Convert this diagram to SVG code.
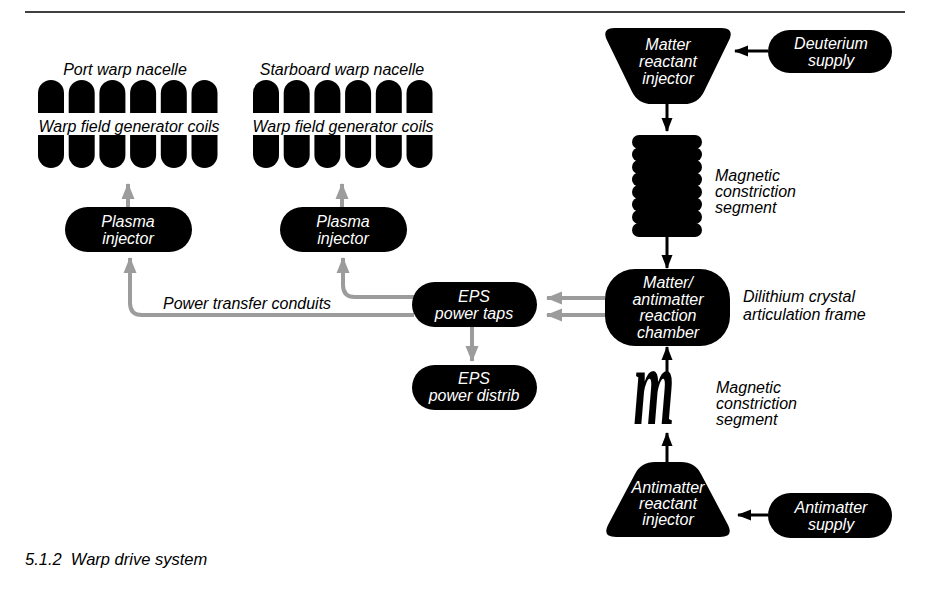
<svg xmlns="http://www.w3.org/2000/svg" width="937" height="590" viewBox="0 0 937 590">
<style>
text{font-family:"Liberation Sans",Arial,sans-serif;font-style:italic;font-size:16px}
.w{fill:#fff;text-anchor:middle}
.k{fill:#000}
.c{text-anchor:middle}
.node{fill:#000}
.g{fill:none;stroke:#9c9c9c;stroke-width:4}
.b{fill:none;stroke:#000;stroke-width:3}
</style>
<defs>
<marker id="ga" markerUnits="userSpaceOnUse" markerWidth="16" markerHeight="16" viewBox="0 0 16 16" refX="15" refY="8" orient="auto">
<path d="M0 1.5 L16 8 L0 14.5 Z" fill="#9c9c9c"/>
</marker>
<marker id="ba" markerUnits="userSpaceOnUse" markerWidth="14" markerHeight="14" viewBox="0 0 14 14" refX="13" refY="7" orient="auto">
<path d="M0 1.5 L14 7 L0 12.5 Z" fill="#000"/>
</marker>
<path id="ct" d="M0 33 V13 A13 13 0 0 1 26 13 V33 Z"/>
<path id="cb" d="M0 0 V20 A13 13 0 0 0 26 20 V0 Z"/>
</defs>
<line x1="25" y1="12" x2="905" y2="12" stroke="#000" stroke-width="1.5"/>

<g id="port-nacelle">
<text class="k c" x="125" y="75">Port warp nacelle</text>
<g class="node">
<use href="#ct" x="38" y="80"/><use href="#ct" x="68.7" y="80"/><use href="#ct" x="99.4" y="80"/><use href="#ct" x="130.1" y="80"/><use href="#ct" x="160.8" y="80"/><use href="#ct" x="191.5" y="80"/>
<use href="#cb" x="38" y="135"/><use href="#cb" x="68.7" y="135"/><use href="#cb" x="99.4" y="135"/><use href="#cb" x="130.1" y="135"/><use href="#cb" x="160.8" y="135"/><use href="#cb" x="191.5" y="135"/>
</g>
<text class="k c" x="129" y="132">Warp field generator coils</text>
</g>

<g id="starboard-nacelle">
<text class="k c" x="342" y="75">Starboard warp nacelle</text>
<g class="node">
<use href="#ct" x="253" y="80"/><use href="#ct" x="283.7" y="80"/><use href="#ct" x="314.4" y="80"/><use href="#ct" x="345.1" y="80"/><use href="#ct" x="375.8" y="80"/><use href="#ct" x="406.5" y="80"/>
<use href="#cb" x="253" y="135"/><use href="#cb" x="283.7" y="135"/><use href="#cb" x="314.4" y="135"/><use href="#cb" x="345.1" y="135"/><use href="#cb" x="375.8" y="135"/><use href="#cb" x="406.5" y="135"/>
</g>
<text class="k c" x="343" y="132">Warp field generator coils</text>
</g>

<g id="connectors">
<path class="g" d="M128 207 V184" marker-end="url(#ga)"/>
<path class="g" d="M342 207 V184" marker-end="url(#ga)"/>
<path class="g" d="M414 315 H142 Q130 315 130 303 V258" marker-end="url(#ga)"/>
<path class="g" d="M414 297 H355 Q343 297 343 285 V258" marker-end="url(#ga)"/>
<path class="g" d="M605 298 H547" marker-end="url(#ga)"/>
<path class="g" d="M605 315 H547" marker-end="url(#ga)"/>
<path class="g" d="M472 327 V361" marker-end="url(#ga)"/>
<path class="b" d="M768 51 H735" marker-end="url(#ba)"/>
<path class="b" d="M667 104 V131" marker-end="url(#ba)"/>
<path class="b" d="M667 237 V268" marker-end="url(#ba)"/>
<path class="b" d="M667 462 V433" marker-end="url(#ba)"/>
<path class="b" d="M667 400 V347" marker-end="url(#ba)"/>
<path class="b" d="M768 515 H738" marker-end="url(#ba)"/>
<text class="k" x="163" y="309">Power transfer conduits</text>
</g>

<g id="plasma-injector-port">
<rect class="node" x="65" y="207" width="127" height="45" rx="22.5"/>
<text class="w" x="128" y="227">Plasma</text>
<text class="w" x="128" y="244">injector</text>
</g>
<g id="plasma-injector-starboard">
<rect class="node" x="280" y="207" width="127" height="45" rx="22.5"/>
<text class="w" x="343" y="227">Plasma</text>
<text class="w" x="343" y="244">injector</text>
</g>

<g id="eps-power-taps">
<rect class="node" x="412" y="282" width="125" height="45" rx="22.5"/>
<text class="w" x="474" y="302">EPS</text>
<text class="w" x="474" y="319">power taps</text>
</g>
<g id="eps-power-distrib">
<rect class="node" x="412" y="365" width="125" height="45" rx="22.5"/>
<text class="w" x="474" y="384">EPS</text>
<text class="w" x="474" y="401">power distrib</text>
</g>

<g id="deuterium-supply">
<rect class="node" x="768" y="30" width="124" height="43" rx="21.5"/>
<text class="w" x="831" y="49">Deuterium</text>
<text class="w" x="831" y="66">supply</text>
</g>

<g id="matter-injector">
<path class="node" d="M615 28 H721 Q735 28 728.9 40.6 L704.1 91.4 Q698 104 684 104 H652 Q638 104 631.9 91.4 L607.1 40.6 Q601 28 615 28 Z"/>
<text class="w" x="668" y="50">Matter</text>
<text class="w" x="668" y="67">reactant</text>
<text class="w" x="668" y="84">injector</text>
</g>

<g id="upper-constriction">
<g class="node">
<rect x="640" y="135" width="54" height="102"/>
<rect x="632" y="135" width="70" height="14" rx="7"/>
<rect x="632" y="147.5" width="70" height="14" rx="7"/>
<rect x="632" y="160" width="70" height="14" rx="7"/>
<rect x="632" y="172.5" width="70" height="14" rx="7"/>
<rect x="632" y="185" width="70" height="14" rx="7"/>
<rect x="632" y="197.5" width="70" height="14" rx="7"/>
<rect x="632" y="210" width="70" height="14" rx="7"/>
<rect x="632" y="223" width="70" height="14" rx="7"/>
</g>
<text class="k" x="715" y="181">Magnetic</text>
<text class="k" x="715" y="197">constriction</text>
<text class="k" x="715" y="213">segment</text>
</g>

<g id="reaction-chamber">
<rect class="node" x="605" y="269" width="125" height="77" rx="30"/>
<text class="w" x="668" y="288">Matter/</text>
<text class="w" x="668" y="304.5">antimatter</text>
<text class="w" x="668" y="321">reaction</text>
<text class="w" x="668" y="337.5">chamber</text>
<text class="k" x="743" y="302">Dilithium crystal</text>
<text class="k" x="743" y="320">articulation frame</text>
</g>

<g id="lower-constriction">
<text transform="translate(654 424) scale(0.47 1)" style="font-family:'Liberation Serif','Times New Roman',serif;font-style:italic;font-weight:bold;font-size:112px" text-anchor="middle" fill="#000">m</text>
<text class="k" x="716" y="393">Magnetic</text>
<text class="k" x="716" y="409">constriction</text>
<text class="k" x="716" y="425">segment</text>
</g>

<g id="antimatter-injector">
<path class="node" d="M655 462 H681 Q695 462 701 474 L728 525 Q734 537 720 537 H616 Q602 537 608 525 L635 474 Q641 462 655 462 Z"/>
<text class="w" x="668" y="493">Antimatter</text>
<text class="w" x="668" y="509">reactant</text>
<text class="w" x="668" y="525">injector</text>
</g>

<g id="antimatter-supply">
<rect class="node" x="768" y="493" width="124" height="45" rx="22.5"/>
<text class="w" x="831" y="513">Antimatter</text>
<text class="w" x="831" y="530">supply</text>
</g>

<text class="k" x="25" y="565" style="font-size:16.5px" xml:space="preserve">5.1.2  Warp drive system</text>
</svg>
